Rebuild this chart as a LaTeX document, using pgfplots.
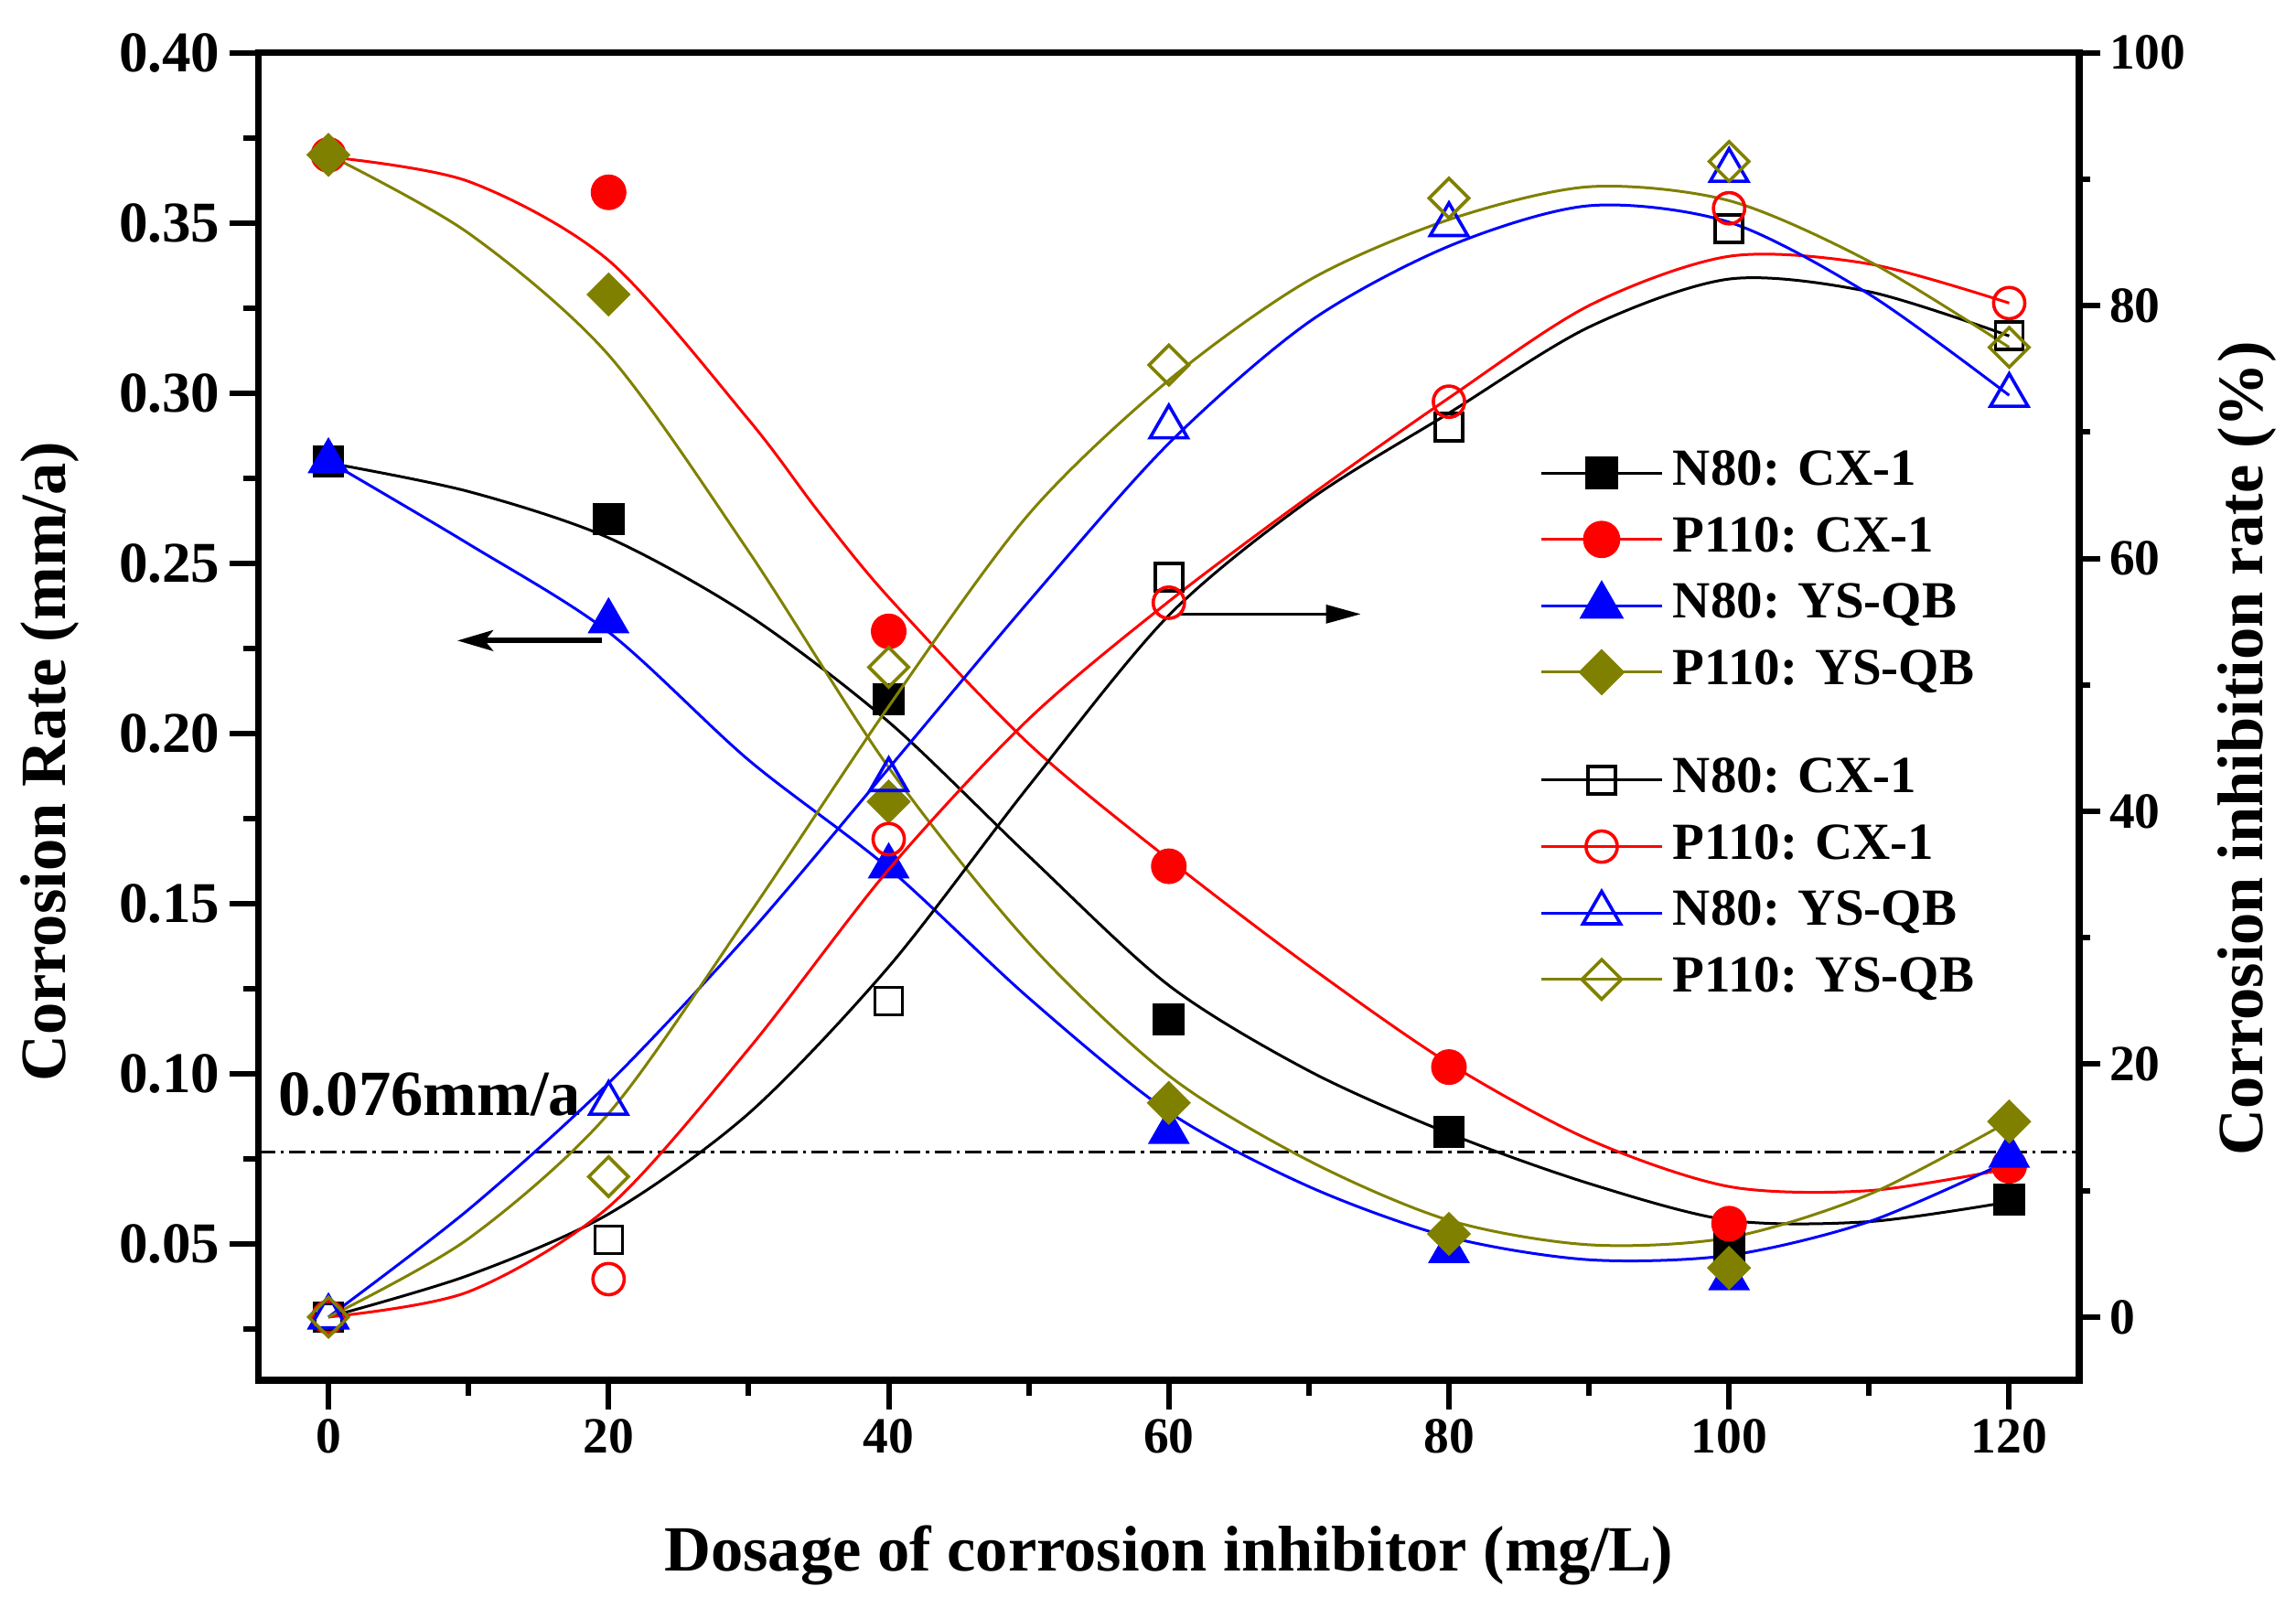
\documentclass[border=0pt]{standalone}
\usepackage{fontspec}
\setmainfont{Liberation Serif}
\usepackage{pgfplots}
\pgfplotsset{compat=1.18}
\usetikzlibrary{arrows.meta}
\definecolor{olv}{RGB}{128,128,0}
\definecolor{rd}{RGB}{255,0,0}
\definecolor{bl}{RGB}{0,0,255}
\begin{document}
\begin{tikzpicture}
\pgfplotsset{
  common/.style={
    scale only axis, width=663.5pt, height=483.77pt,
    xmin=-5, xmax=125,
    at={(0pt,0pt)}, anchor=south west,
    tick align=outside,
    axis line style={line width=2.4pt},
    major tick style={line width=2pt, black},
    minor tick style={line width=2pt, black},
    /pgf/number format/assume math mode=true,
    label style={font=\bfseries\fontsize{23.5}{23.5}\selectfont},
    legend image code/.code={\draw[mark repeat=2, mark phase=2, ##1] plot coordinates {(0pt,0pt) (22pt,0pt) (44pt,0pt)}; \path (44.5pt,0pt);},
    legend cell align=left,
    legend style={draw=none, fill=none, inner sep=0pt,
      font=\bfseries\fontsize{19}{19}\selectfont,
      row sep=1.2pt, column sep=0pt,
      nodes={inner sep=3pt, text height=13pt, text depth=4pt}},
  },
  fm/.style={only marks, forget plot, mark options={solid}},
  cv/.style={smooth, no marks, line width=1pt, forget plot},
}
% ---------------- left axis: corrosion rate ----------------
\begin{axis}[common,
  ymin=0.01, ymax=0.40,
  xtick={0,20,...,120}, minor xtick={10,30,...,110},
  ytick={0.05,0.10,0.15,0.20,0.25,0.30,0.35,0.40},
  minor ytick={0.025,0.075,0.125,0.175,0.225,0.275,0.325,0.375},
  xtick pos=left, ytick pos=left,
  major tick length=10.5pt, minor tick length=5.5pt,
  xticklabel style={font=\bfseries\fontsize{18.5}{18.5}\selectfont},
  yticklabel style={font=\bfseries\fontsize{21}{21}\selectfont,
    /pgf/number format/.cd, fixed, fixed zerofill, precision=2},
  xlabel={Dosage of corrosion inhibitor (mg/L)},
  ylabel={Corrosion Rate (mm/a)},
  xlabel style={at={(axis description cs:0.5,-0.144)}, anchor=base},
  ylabel style={at={(axis description cs:-0.1058,0.466)}, anchor=base},
  legend style={at={(0.7035,0.7076)}, anchor=north west},
]
% reference line 0.076 mm/a
\addplot[black, line width=0.9pt, dash pattern=on 6pt off 2pt on 1.2pt off 2pt, forget plot] coordinates {(-5,0.077) (125,0.077)};
% fitted curves
\addplot[cv, black] coordinates {(0,0.2795) (10,0.2711) (20,0.2575) (30,0.2347) (40,0.2034) (50,0.164) (60,0.126) (70,0.1009) (80,0.0825) (90,0.0678) (100,0.0570) (110,0.0566) (120,0.0624)};
\addplot[cv, rd] coordinates {(0,0.3694) (10,0.3622) (20,0.339) (30,0.2922) (35,0.2651) (40,0.240) (50,0.197) (60,0.163) (70,0.1317) (80,0.1031) (90,0.0807) (100,0.0669) (110,0.0657) (120,0.0722)};
\addplot[cv, bl] coordinates {(0,0.28) (10,0.2557) (20,0.2298) (30,0.1922) (40,0.1604) (50,0.1223) (60,0.0888) (70,0.0669) (80,0.0521) (90,0.0454) (100,0.0467) (110,0.0566) (120,0.0745)};
\addplot[cv, olv] coordinates {(0,0.37) (10,0.347) (20,0.3112) (30,0.2535) (40,0.19) (50,0.1385) (60,0.0995) (70,0.0745) (80,0.0570) (90,0.0498) (100,0.0519) (110,0.0646) (120,0.0861)};
% measured points
\addplot[fm, black, mark=square*, mark size=5.6pt] coordinates {(0,0.280) (20,0.263) (40,0.210) (60,0.116) (80,0.083) (100,0.049) (120,0.063)};
\addplot[fm, rd, mark=*, mark size=6.3pt] coordinates {(0,0.370) (20,0.359) (40,0.230) (60,0.161) (80,0.102) (100,0.056) (120,0.073)};
\addplot[fm, bl, mark=triangle*, mark size=8.4pt] coordinates {(0,0.280) (20,0.233) (40,0.161) (60,0.083) (80,0.048) (100,0.040) (120,0.076)};
\addplot[fm, olv, mark=square*, mark size=5.5pt, mark options={rotate=45}] coordinates {(0,0.370) (20,0.329) (40,0.180) (60,0.0915) (80,0.053) (100,0.043) (120,0.086)};
% legend
\addlegendimage{black, line width=1pt, mark=square*, mark size=5.6pt}
\addlegendentry{N80: CX-1}
\addlegendimage{rd, line width=1pt, mark=*, mark size=6.3pt}
\addlegendentry{P110: CX-1}
\addlegendimage{bl, line width=1pt, mark=triangle*, mark size=8.4pt}
\addlegendentry{N80: YS-QB}
\addlegendimage{olv, line width=1pt, mark=square*, mark size=5.5pt, mark options={rotate=45}}
\addlegendentry{P110: YS-QB}
% annotations
\node[anchor=base west, inner sep=0pt, font=\bfseries\fontsize{23.5}{23.5}\selectfont] at (axis cs:-3.63,0.0879) {0.076mm/a};
\draw[line width=2pt, -{Stealth[length=13pt,width=7.5pt,inset=3pt]}] (axis cs:19.5,0.2273) -- (axis cs:9.2,0.2273);
\end{axis}
% ---------------- right axis: inhibition rate ----------------
\begin{axis}[common,
  ymin=-5, ymax=100,
  axis x line=none,
  axis y line*=right,
  ytick={0,20,...,100}, minor ytick={10,30,...,90},
  major tick length=7.5pt, minor tick length=4pt,
  yticklabel style={font=\bfseries\fontsize{18.5}{18.5}\selectfont},
  ylabel={Corrosion inhibition rate (\%)},
  ylabel style={at={(axis description cs:1.1005,0.476)}, anchor=base},
  legend style={at={(0.7035,0.4762)}, anchor=north west},
]
\addplot[cv, black] coordinates {(0,0) (10,3.3) (20,8.15) (30,16.1) (40,27.7) (50,42.0) (60,55.5) (70,64.6) (80,71.5) (90,78.3) (100,82.1) (110,81.1) (120,77.6)};
\addplot[cv, rd] coordinates {(0,0) (10,2.0) (20,8.7) (30,21.2) (40,35.4) (50,47.3) (60,56.6) (70,64.9) (80,72.7) (90,80.0) (100,83.9) (110,83.3) (120,80.2)};
\addplot[cv, bl] coordinates {(0,0) (10,8.5) (20,18.5) (30,30.3) (40,43.4) (50,56.6) (60,69.1) (70,78.7) (80,84.7) (90,87.9) (100,86.6) (110,80.9) (120,72.9)};
\addplot[cv, olv] coordinates {(0,0) (10,6.2) (20,16.1) (30,31.8) (40,48.3) (50,63.5) (60,74.1) (70,82.0) (80,86.8) (90,89.4) (100,88.3) (110,83.5) (120,76.7)};
\addplot[fm, black, mark=square, mark size=5pt, mark options={line width=1.2pt}] coordinates {(0,0) (20,6.1) (40,25.0) (60,58.5) (80,70.4) (100,86.1) (120,77.6)};
\addplot[fm, rd, mark=o, mark size=5.7pt, mark options={line width=1.2pt}] coordinates {(0,0) (20,3.0) (40,37.8) (60,56.5) (80,72.4) (100,87.7) (120,80.2)};
\addplot[fm, bl, mark=triangle, mark size=7.9pt, mark options={line width=1.2pt}] coordinates {(0,0) (20,16.9) (40,42.5) (60,70.4) (80,86.4) (100,90.7) (120,72.9)};
\addplot[fm, olv, mark=square, mark size=5.1pt, mark options={rotate=45, line width=1.2pt}] coordinates {(0,0) (20,11.1) (40,51.4) (60,75.3) (80,88.5) (100,91.4) (120,76.7)};
\addlegendimage{black, line width=1pt, mark=square, mark size=5pt, mark options={line width=1.2pt}}
\addlegendentry{N80: CX-1}
\addlegendimage{rd, line width=1pt, mark=o, mark size=5.7pt, mark options={line width=1.2pt}}
\addlegendentry{P110: CX-1}
\addlegendimage{bl, line width=1pt, mark=triangle, mark size=7.9pt, mark options={line width=1.2pt}}
\addlegendentry{N80: YS-QB}
\addlegendimage{olv, line width=1pt, mark=square, mark size=5.1pt, mark options={rotate=45, line width=1.2pt}}
\addlegendentry{P110: YS-QB}
\draw[line width=0.9pt, -{Triangle[length=12.6pt,width=6.7pt]}] (axis cs:60.7,55.6) -- (axis cs:73.7,55.6);
\end{axis}
\pgfresetboundingbox
\path[use as bounding box] (-94.17pt,-82.67pt) rectangle (742.5pt,503pt);
\end{tikzpicture}
\end{document}
